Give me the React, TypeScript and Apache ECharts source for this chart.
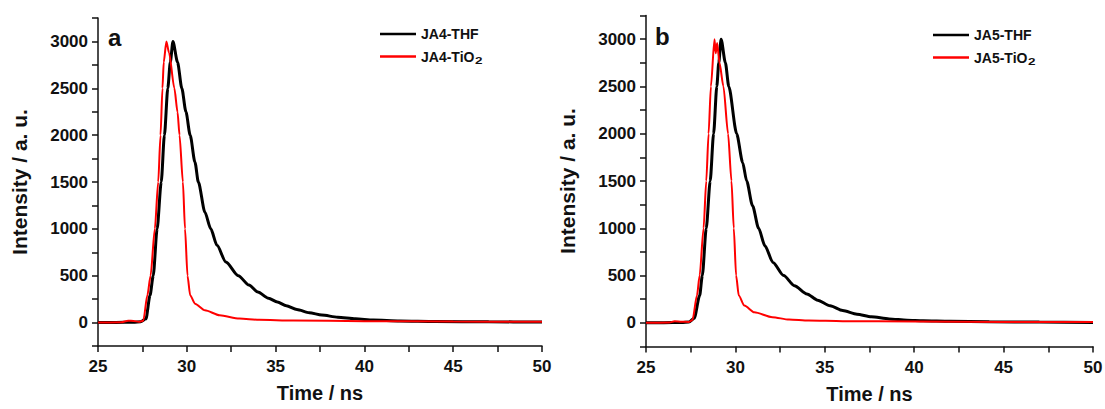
import React, { useEffect, useRef } from "react";
import * as echarts from "echarts";

// ---- Panel a (JA4) ----
const ja4ThfTime = [25, 26, 27, 27.4, 27.7, 27.93, 28.11, 28.33, 28.56, 28.74, 28.93, 29.07, 29.22, 29.48, 29.72, 29.95, 30.19, 30.46, 30.65, 31.02, 31.35, 31.7, 32.2, 32.9, 33.5, 34.0, 34.6, 35.1, 35.6, 36.2, 36.9, 37.6, 38.5, 39.5, 40.5, 42, 44, 47, 50];
const ja4ThfIntensity = [0, 2, 4, 8, 40, 291, 500, 1000, 1500, 2000, 2500, 2777, 3000, 2777, 2500, 2250, 2000, 1711, 1500, 1178, 1000, 824, 646, 500, 400, 327, 260, 220, 180, 140, 105, 80, 58, 40, 28, 18, 12, 8, 6];

const ja4TioTime = [25, 26.3, 26.7, 27.0, 27.3, 27.55, 27.78, 27.96, 28.2, 28.39, 28.52, 28.63, 28.7, 28.85, 29.0, 29.3, 29.48, 29.59, 29.78, 29.9, 30.04, 30.19, 30.46, 31.02, 31.85, 32.96, 34.07, 36, 40, 45, 50];
const ja4TioIntensity = [0, 3, 20, 18, 8, 20, 291, 500, 1000, 1500, 2000, 2500, 2777, 3000, 2880, 2500, 2244, 2000, 1500, 1000, 500, 291, 202, 131, 78, 43, 30, 22, 15, 11, 8];

// ---- Panel b (JA5) ----
const ja5ThfTime = [25, 26, 27, 27.4, 27.7, 28.0, 28.15, 28.37, 28.59, 28.78, 28.96, 29.07, 29.2, 29.44, 29.63, 30.07, 30.41, 30.63, 30.96, 31.3, 31.65, 32.1, 32.7, 33.3, 34.0, 34.6, 35.3, 36.0, 36.8, 37.6, 38.6, 39.6, 40.5, 42, 44.2, 47, 50];
const ja5ThfIntensity = [0, 2, 4, 8, 50, 288, 500, 1000, 1500, 2000, 2500, 2750, 3000, 2750, 2500, 2000, 1693, 1500, 1237, 1000, 815, 639, 500, 393, 306, 240, 180, 130, 92, 65, 42, 28, 22, 16, 12, 8, 5];

const ja5TioTime = [25, 26.3, 26.6, 27.0, 27.4, 27.6, 27.85, 28.0, 28.22, 28.37, 28.5, 28.63, 28.83, 28.9, 28.98, 29.11, 29.33, 29.59, 29.78, 29.91, 30.04, 30.19, 30.5, 31.06, 32.07, 33.0, 34.1, 36, 40, 45, 50];
const ja5TioIntensity = [0, 3, 18, 12, 10, 30, 288, 500, 1000, 1500, 2000, 2500, 3000, 2850, 2960, 2750, 2500, 2000, 1500, 1000, 500, 288, 183, 112, 60, 35, 24, 18, 14, 10, 8];

// ---- Axes ----
const xTicks = [25, 27.5, 30, 32.5, 35, 37.5, 40, 42.5, 45, 47.5, 50];
const xLabels = [25, 30, 35, 40, 45, 50];
const yTicks = [-250, 0, 250, 500, 750, 1000, 1250, 1500, 1750, 2000, 2250, 2500, 2750, 3000, 3250];
const yLabels = [0, 500, 1000, 1500, 2000, 2500, 3000];

const seriesNames = ["JA4-THF", "JA4-TiO₂", "JA5-THF", "JA5-TiO₂"];
const panelLabels = ["a", "b"];

const FONT = "'Liberation Sans', Arial, sans-serif";
const INK = "#111111";

const zip = (xs: number[], ys: number[]) => xs.map((x, i) => [x, ys[i]]);

export default function App() {
  const ref = useRef<HTMLDivElement>(null);
  useEffect(() => {
    if (!ref.current) return;
    const chart = echarts.init(ref.current, undefined, { renderer: "svg" });
    const axisLine = { show: true, onZero: false, lineStyle: { color: INK, width: 1.5 } };
    const mkX = (gi: number) => ({
      type: "value",
      gridIndex: gi,
      min: 25,
      max: 50,
      interval: 5,
      name: "Time / ns",
      nameLocation: "middle",
      nameGap: 37,
      nameTextStyle: { fontFamily: FONT, fontWeight: "bold", fontSize: 20, color: INK },
      axisLine,
      axisTick: { show: true, inside: false, length: 6, customValues: xTicks, lineStyle: { color: INK, width: 1.5 } },
      axisLabel: { customValues: xLabels, margin: 12, fontFamily: FONT, fontWeight: "bold", fontSize: 17, color: INK, formatter: (v: number) => String(v) },
      splitLine: { show: false },
    });
    const mkY = (gi: number) => ({
      type: "value",
      gridIndex: gi,
      min: -250,
      max: 3250,
      name: "Intensity / a. u.",
      nameLocation: "middle",
      nameGap: 68,
      nameTextStyle: { fontFamily: FONT, fontWeight: "bold", fontSize: 21, color: INK },
      axisLine,
      axisTick: { show: true, inside: false, length: 6, customValues: yTicks, lineStyle: { color: INK, width: 1.5 } },
      axisLabel: { customValues: yLabels, margin: 10, fontFamily: FONT, fontWeight: "bold", fontSize: 17, color: INK, formatter: (v: number) => String(v) },
      splitLine: { show: false },
    });
    const mkSeries = (name: string, data: number[][], gi: number, color: string, width: number) => ({
      type: "line",
      name,
      xAxisIndex: gi,
      yAxisIndex: gi,
      data,
      showSymbol: false,
      symbol: "none",
      smooth: 0.25,
      smoothMonotone: "x",
      lineStyle: { color, width },
      itemStyle: { color },
      z: color === "#000000" ? 2 : 3,
    });
    const legendText = {
      fontFamily: FONT,
      fontWeight: "bold",
      fontSize: 14,
      color: INK,
      lineHeight: 16,
      rich: {
        s: { fontFamily: FONT, fontWeight: "bold", fontSize: 19, lineHeight: 16, color: INK },
      },
    };
    const legendBase = {
      orient: "vertical",
      icon: "rect",
      itemWidth: 36,
      itemHeight: 2.5,
      itemGap: 5,
      padding: 0,
      textStyle: legendText,
      selectedMode: false,
      formatter: (n: string) => (n.endsWith("₂") ? `${n.slice(0, -1)}{s|₂}` : n),
    };
    chart.setOption({
      animation: false,
      backgroundColor: "#ffffff",
      grid: [
        { left: 98, top: 18, width: 444, height: 328, outerBoundsMode: "none" },
        { left: 646, top: 15.5, width: 447, height: 331, outerBoundsMode: "none" },
      ],
      xAxis: [mkX(0), mkX(1)],
      yAxis: [mkY(0), mkY(1)],
      legend: [
        { ...legendBase, data: [seriesNames[0], seriesNames[1]], left: 380, top: 26 },
        { ...legendBase, data: [seriesNames[2], seriesNames[3]], left: 933, top: 27 },
      ],
      graphic: [
        { type: "text", left: 108, top: 25, style: { text: panelLabels[0], fontFamily: FONT, fontWeight: "bold", fontSize: 24, fill: INK } },
        { type: "text", left: 655, top: 24, style: { text: panelLabels[1], fontFamily: FONT, fontWeight: "bold", fontSize: 24, fill: INK } },
      ],
      series: [
        mkSeries(seriesNames[0], zip(ja4ThfTime, ja4ThfIntensity), 0, "#000000", 3),
        mkSeries(seriesNames[1], zip(ja4TioTime, ja4TioIntensity), 0, "#ff0000", 2),
        mkSeries(seriesNames[2], zip(ja5ThfTime, ja5ThfIntensity), 1, "#000000", 3),
        mkSeries(seriesNames[3], zip(ja5TioTime, ja5TioIntensity), 1, "#ff0000", 2),
      ],
    });
    return () => chart.dispose();
  }, []);
  return (
    <div
      ref={ref}
      style={{ position: "absolute", left: 0, top: 0, width: 1105, height: 409, background: "#fff" }}
    />
  );
}
